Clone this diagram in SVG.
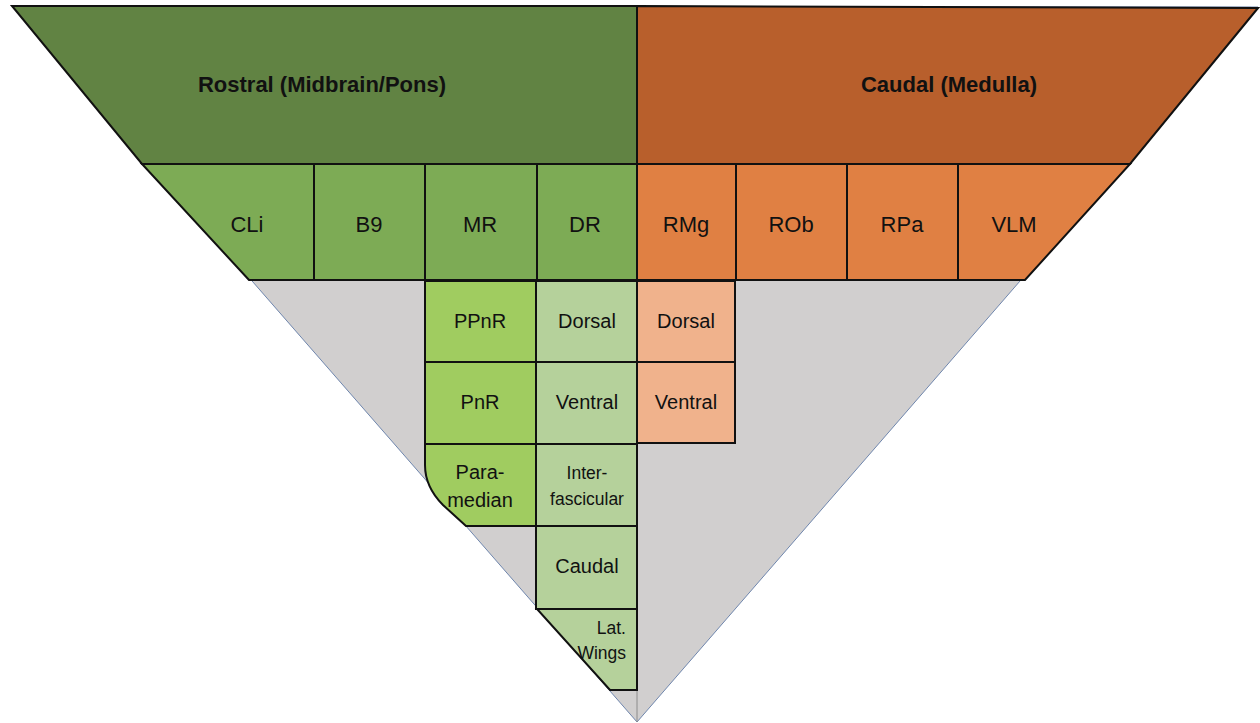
<svg xmlns="http://www.w3.org/2000/svg" width="1260" height="723" viewBox="0 0 1260 723">
<style>
.t{font-family:"Liberation Sans",Arial,sans-serif;fill:#111;text-anchor:middle}
.h{font-size:22px;font-weight:bold}
.r2{font-size:22px}
.s{font-size:20px}
.sm{font-size:17.5px}
.b{stroke:#111;stroke-width:2;stroke-linejoin:miter}
.dg{fill:#618343}.do{fill:#b85f2c}
.g2{fill:#7dab55}.o2{fill:#e08043}
.g3{fill:#a0cc60}.g4{fill:#b5d19b}.o3{fill:#f0b28c}
</style>
<g id="background">
<polygon points="12,6 1258,7 637,722" fill="#d1cfcf" stroke="#6f86ad" stroke-width="1"/>
<line x1="637" y1="443" x2="637" y2="722" stroke="#8c8c8c" stroke-width="1"/>
</g>
<g id="rostral">
<polygon class="dg b" points="12,6 637,6 637,164 142,164"/>
<text class="t h" x="322" y="92">Rostral (Midbrain/Pons)</text>
</g>
<g id="caudal">
<polygon class="do b" points="637,6 1258,8 1130,164 637,164"/>
<text class="t h" x="949" y="92">Caudal (Medulla)</text>
</g>
<g id="CLi"><polygon class="g2 b" points="142,164 314,164 314,280 249,280"/><text class="t r2" x="247" y="232">CLi</text></g>
<g id="B9"><rect class="g2 b" x="314" y="164" width="111" height="116"/><text class="t r2" x="369" y="232">B9</text></g>
<g id="MR"><rect class="g2 b" x="425" y="164" width="112" height="116"/><text class="t r2" x="480" y="232">MR</text></g>
<g id="DR"><rect class="g2 b" x="537" y="164" width="100" height="116"/><text class="t r2" x="585" y="232">DR</text></g>
<g id="RMg"><rect class="o2 b" x="637" y="164" width="99" height="116"/><text class="t r2" x="686" y="232">RMg</text></g>
<g id="ROb"><rect class="o2 b" x="736" y="164" width="111" height="116"/><text class="t r2" x="791" y="232">ROb</text></g>
<g id="RPa"><rect class="o2 b" x="847" y="164" width="111" height="116"/><text class="t r2" x="902" y="232">RPa</text></g>
<g id="VLM"><polygon class="o2 b" points="958,164 1130,164 1025,280 958,280"/><text class="t r2" x="1014" y="232">VLM</text></g>
<g id="PPnR"><rect class="g3 b" x="425" y="281" width="111" height="81"/><text class="t s" x="480" y="328">PPnR</text></g>
<g id="PnR"><rect class="g3 b" x="425" y="362" width="111" height="82"/><text class="t s" x="480" y="409">PnR</text></g>
<g id="Paramedian"><path class="g3 b" d="M425,444 H536 V526 H466 L443,505 C432,494 425,482 425,465 Z"/><text class="t s" x="480" y="479">Para-</text><text class="t s" x="480" y="507">median</text></g>
<g id="DR-Dorsal"><rect class="g4 b" x="536" y="281" width="101" height="81"/><text class="t s" x="587" y="328">Dorsal</text></g>
<g id="DR-Ventral"><rect class="g4 b" x="536" y="362" width="101" height="82"/><text class="t s" x="587" y="409">Ventral</text></g>
<g id="Interfascicular"><rect class="g4 b" x="536" y="444" width="101" height="82"/><text class="t sm" x="587" y="479">Inter-</text><text class="t sm" x="587" y="505">fascicular</text></g>
<g id="DR-Caudal"><rect class="g4 b" x="536" y="526" width="101" height="83"/><text class="t s" x="587" y="573">Caudal</text></g>
<g id="LatWings"><polygon class="g4 b" points="537,609 637,609 637,690 610,690"/><text class="t sm" x="626" y="634" style="text-anchor:end">Lat.</text><text class="t sm" x="626" y="659" style="text-anchor:end">Wings</text></g>
<g id="RMg-Dorsal"><rect class="o3 b" x="637" y="281" width="98" height="81"/><text class="t s" x="686" y="328">Dorsal</text></g>
<g id="RMg-Ventral"><rect class="o3 b" x="637" y="362" width="98" height="81"/><text class="t s" x="686" y="409">Ventral</text></g>
<g id="connectors"></g>
</svg>
